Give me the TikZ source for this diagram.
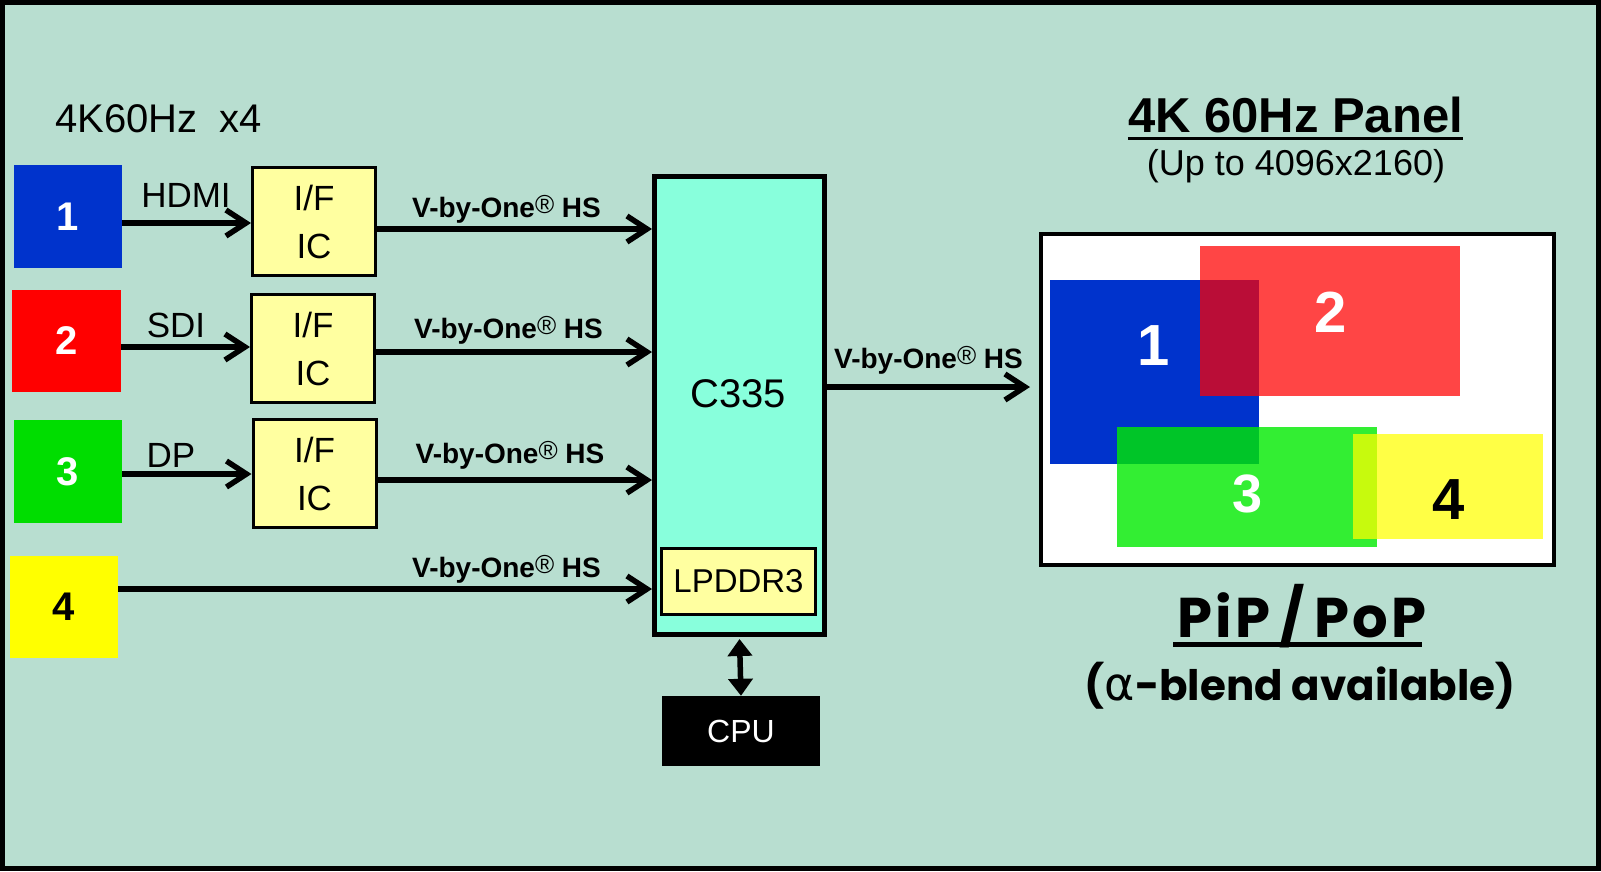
\documentclass[tikz,border=0pt]{standalone}
\usepackage{fontspec}
\setmainfont{Liberation Sans}
\newfontfamily\popfont{Poppins}
\newfontfamily\poppinsp{Poppins}[LetterSpace=6]
\newfontfamily\dvfont{DejaVu Sans}
\usetikzlibrary{arrows.meta}
\definecolor{bgc}{RGB}{184,222,208}
\definecolor{bblue}{RGB}{0,51,204}
\definecolor{bred}{RGB}{255,0,0}
\definecolor{bgreen}{RGB}{0,221,0}
\definecolor{byellow}{RGB}{255,255,0}
\definecolor{ifc}{RGB}{255,255,160}
\definecolor{chipc}{RGB}{136,255,220}
\definecolor{pgreen}{RGB}{0,234,0}
\newcommand{\fs}[1]{\fontsize{#1}{#1}\selectfont}
\newcommand{\regmark}{{\mdseries\fs{26}\raisebox{4pt}{®}}}
\begin{document}
\begin{tikzpicture}[x=1pt,y=-1pt,
  src/.style={minimum width=108pt,minimum height=103pt,inner sep=0pt,font=\bfseries\fs{40}},
  ifbox/.style={draw,line width=3pt,fill=ifc,minimum width=123pt,minimum height=108pt,inner sep=0pt,align=center,font=\fontsize{35}{48}\selectfont},
  lbl/.style={inner sep=0pt,anchor=base},
  vbo/.style={lbl,font=\bfseries\fs{28}},
  arr/.style={line width=5.5pt,-{Straight Barb[length=20pt,width=26pt]}},
  prect/.style={inner sep=0pt},
  pnum/.style={lbl,font=\bfseries\fs{58}}
]
\useasboundingbox (0,0) rectangle (1601,871);
\fill[bgc] (0,0) rectangle (1601,871);

% title left
\node[inner sep=0pt,anchor=base west,font=\fs{40}] (hdr) at (55,132) {4K60Hz\ \ x4};

% source boxes
\node[src,fill=bblue,text=white] (b1) at (68,216.5) {1};
\node[src,fill=bred,text=white,minimum width=109pt,minimum height=102pt] (b2) at (66.5,341) {2};
\node[src,fill=bgreen,text=white] (b3) at (68,471.5) {3};
\node[src,fill=byellow,text=black,minimum height=102pt] (b4) at (64,607) {4};

% IF boxes
\node[ifbox] (if1) at (314,221.5) {I/F\\IC};
\node[ifbox] (if2) at (313,348.5) {I/F\\IC};
\node[ifbox] (if3) at (314.5,473.5) {I/F\\IC};

% C335 chip
\node[draw,line width=5pt,fill=chipc,minimum width=170pt,minimum height=458pt,inner sep=0pt] (chip) at (739.5,405.5) {};
\node[lbl,font=\fs{40}] (chiplbl) at (738,407) {C335};
\node[draw,line width=3pt,fill=ifc,minimum width=154pt,minimum height=66pt,inner sep=0pt,font=\fs{33}] (ddr) at (738.5,581.5) {LPDDR3};
\node[fill=black,text=white,minimum width=158pt,minimum height=70pt,inner sep=0pt,font=\fs{32}] (cpu) at (741,731) {CPU};

% interface labels
\node[lbl,font=\fs{35}] (lhdmi) at (186,207) {HDMI};
\node[lbl,font=\fs{35}] (lsdi) at (176,337) {SDI};
\node[lbl,font=\fs{35}] (ldp) at (171,467) {DP};

% arrows source -> IF
\path ([yshift=-6.5pt]b1.east) coordinate (s1);
\path ([yshift=-6pt]b2.east) coordinate (s2);
\path ([yshift=-2.5pt]b3.east) coordinate (s3);
\path ([yshift=18pt]b4.east) coordinate (s4);
\draw[arr] (s1) -- (s1 -| if1.west);
\draw[arr] (s2) -- (s2 -| if2.west);
\draw[arr] (s3) -- (s3 -| if3.west);

% arrows IF -> chip
\path ([yshift=-7.5pt]if1.east) coordinate (t1);
\path ([yshift=-3.5pt]if2.east) coordinate (t2);
\path ([yshift=-6.5pt]if3.east) coordinate (t3);
\draw[arr] (t1) -- (t1 -| chip.west);
\draw[arr] (t2) -- (t2 -| chip.west);
\draw[arr] (t3) -- (t3 -| chip.west);
\draw[arr] (s4) -- (s4 -| chip.west);

\node[vbo] (v1) at (506.5,217) {V-by-One\regmark\ HS};
\node[vbo] (v2) at (508.5,338) {V-by-One\regmark\ HS};
\node[vbo] (v3) at (510,463) {V-by-One\regmark\ HS};
\node[vbo] (v4) at (506.5,577) {V-by-One\regmark\ HS};

% chip <-> cpu
\draw[line width=5.5pt,{Triangle[length=17pt,width=24pt]}-{Triangle[length=17pt,width=24pt]}] ([yshift=-2pt]chip.south) -- (cpu.north);

% panel
\node[draw,line width=4pt,fill=white,minimum width=513pt,minimum height=331pt,inner sep=0pt] (panel) at (1297.5,399.5) {};
\node[prect,fill=bblue,minimum width=209pt,minimum height=184pt] (p1) at (1154.5,372) {};
\node[prect,fill=bred,fill opacity=0.73,minimum width=260pt,minimum height=150pt] (p2) at (1330,321) {};
\node[prect,fill=pgreen,fill opacity=0.8,minimum width=260pt,minimum height=120pt] (p3) at (1247,487) {};
\node[prect,fill=byellow,fill opacity=0.73,minimum width=190pt,minimum height=105pt] (p4) at (1448,486.5) {};
\node[pnum,text=white] (n1) at (1154,365) {1};
\node[pnum,text=white] (n2) at (1331,332) {2};
\node[pnum,text=white,font=\bfseries\fs{54}] (n3) at (1248,512) {3};
\node[pnum,text=black] (n4) at (1449,519) {4};

% chip -> panel
\path ([yshift=18.5pt]chip.east) coordinate (o1);
\draw[arr,shorten >=9pt] (o1) -- (o1 -| panel.west);
\node[vbo] (vo) at (928.5,368) {V-by-One\regmark\ HS};

% panel titles
\node[lbl,font=\bfseries\fs{49}] (ptitle) at (1295.5,132) {4K 60Hz Panel};
\draw[line width=3pt] ([yshift=-6.7pt]ptitle.base west) -- ([yshift=-6.7pt]ptitle.base east);
\node[lbl,font=\fs{36}] (psub) at (1296,175) {(Up to 4096x2160)};

\node[lbl,font=\poppinsp\bfseries\fs{56}] (pip) at (1302,637) {PiP\,/\,PoP};
\draw[line width=5pt] ([xshift=-4pt,yshift=-7pt]pip.base west) -- ([xshift=-5pt,yshift=-7pt]pip.base east);
\node[lbl,font=\popfont\bfseries\fs{42}] (blend) at (1300,700) {({\dvfont\mdseries\fs{46}α}-blend available)};

% outer frame
\draw[line width=5pt] (2.5,2.5) rectangle (1598.5,868.5);
\end{tikzpicture}
\end{document}
